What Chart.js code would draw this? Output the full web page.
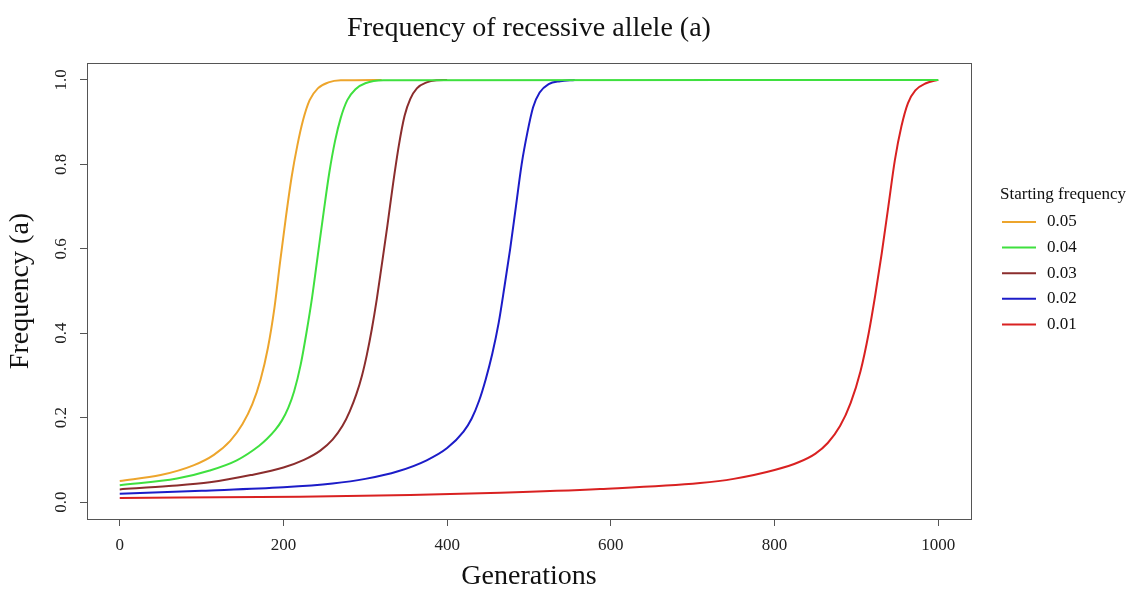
<!DOCTYPE html>
<html>
<head>
<meta charset="utf-8">
<title>Frequency of recessive allele (a)</title>
<script src="https://cdn.jsdelivr.net/npm/chart.js@4/dist/chart.umd.min.js"></script>
<style>
  html, body { margin: 0; padding: 0; background: #ffffff; }
  #wrap { width: 1128px; height: 592px; }
</style>
</head>
<body>
<div id="wrap"><canvas id="chart" width="1128" height="592"></canvas></div>
<script>
"use strict";

const SERIF = "'Liberation Serif', 'Times New Roman', serif";

// Legend entries (starting frequency) and their line colours
const startLabels = ["0.05", "0.04", "0.03", "0.02", "0.01"];
const lineColors = ["#EDA52C", "#3FE03F", "#8B2D2D", "#1C1CC8", "#D92121"];

// Axis ticks
const xTickValues = [0, 200, 400, 600, 800, 1000];
const yTickValues = [0, 0.2, 0.4, 0.6, 0.8, 1.0];

// Generation / frequency samples for each starting frequency
const gen05 = [0, 50, 90, 115, 135, 150, 162, 172, 181, 189, 196, 203, 210, 217, 224, 232, 242, 255, 270, 320];
const freq05 = [0.050, 0.064, 0.087, 0.112, 0.145, 0.185, 0.232, 0.29, 0.365, 0.46, 0.57, 0.675, 0.77, 0.845, 0.905, 0.952, 0.98, 0.994, 0.999, 1.0];

const gen04 = [0, 70, 110, 143, 170, 180, 190, 198, 206, 213, 221, 228, 235, 242, 249, 256, 263, 270, 278, 288, 300, 322, 1000];
const freq04 = [0.040, 0.056, 0.075, 0.099, 0.133, 0.15, 0.171, 0.193, 0.224, 0.262, 0.325, 0.40, 0.485, 0.585, 0.685, 0.78, 0.855, 0.91, 0.952, 0.978, 0.992, 0.999, 1.0];

const gen03 = [0, 60, 110, 160, 200, 225, 245, 260, 272, 281, 289, 296, 302, 308, 314, 320, 327, 334, 341, 348, 355, 363, 375, 387, 400];
const freq03 = [0.030, 0.038, 0.047, 0.064, 0.082, 0.100, 0.122, 0.148, 0.18, 0.215, 0.255, 0.30, 0.35, 0.41, 0.48, 0.56, 0.655, 0.755, 0.845, 0.915, 0.955, 0.98, 0.994, 0.999, 1.0];

const gen02 = [0, 100, 200, 260, 300, 340, 375, 400, 420, 430, 439, 447, 455, 463, 470, 477, 484, 491, 498, 505, 513, 524, 538, 556];
const freq02 = [0.020, 0.027, 0.035, 0.044, 0.055, 0.073, 0.099, 0.128, 0.167, 0.198, 0.24, 0.29, 0.35, 0.425, 0.51, 0.60, 0.70, 0.80, 0.875, 0.935, 0.97, 0.99, 0.997, 1.0];

const gen01 = [0, 220, 355, 465, 587, 709, 750, 800, 830, 850, 865, 880, 893, 905, 915, 923, 931, 939, 947, 955, 963, 972, 985, 1000];
const freq01 = [0.010, 0.0126, 0.0166, 0.022, 0.031, 0.045, 0.055, 0.076, 0.095, 0.115, 0.14, 0.18, 0.235, 0.31, 0.40, 0.49, 0.59, 0.70, 0.81, 0.89, 0.945, 0.975, 0.992, 1.0];

const gens = [gen05, gen04, gen03, gen02, gen01];
const freqs = [freq05, freq04, freq03, freq02, freq01];

const toPoints = (xs, ys) => xs.map((x, i) => ({ x, y: ys[i] }));

const datasets = startLabels.map((label, i) => ({
  label,
  data: toPoints(gens[i], freqs[i]),
  borderColor: lineColors[i],
  borderWidth: 2,
  pointRadius: 0,
  fill: false,
  cubicInterpolationMode: "monotone",
  // the 0.04 run reaches 1.0 and stays there, drawn over the others
  order: label === "0.04" ? 0 : 1,
}));

// Box around the plot region plus the right-hand legend
const boxAndLegend = {
  id: "boxAndLegend",
  afterDraw(chart) {
    const { ctx, chartArea: a } = chart;
    ctx.save();
    ctx.strokeStyle = "#555";
    ctx.lineWidth = 1;
    ctx.strokeRect(Math.round(a.left) + 0.5, Math.round(a.top) + 0.5,
      Math.round(a.right - a.left), Math.round(a.bottom - a.top));

    const lx = a.right + 29;
    ctx.fillStyle = "#111";
    ctx.textBaseline = "middle";
    ctx.textAlign = "left";
    ctx.font = "17px " + SERIF;
    ctx.fillText("Starting frequency", lx, 195);
    startLabels.forEach((lab, i) => {
      const y = 222 + i * 25.6;
      ctx.strokeStyle = lineColors[i];
      ctx.lineWidth = 2;
      ctx.beginPath();
      ctx.moveTo(lx + 2, y);
      ctx.lineTo(lx + 36, y);
      ctx.stroke();
      ctx.fillStyle = "#111";
      ctx.fillText(lab, lx + 47, y);
    });
    ctx.restore();
  },
};

new Chart(document.getElementById("chart"), {
  type: "line",
  data: { datasets },
  plugins: [boxAndLegend],
  options: {
    responsive: false,
    animation: false,
    devicePixelRatio: 1,
    layout: { padding: { left: 0, right: 157, top: 0, bottom: 0 } },
    plugins: {
      legend: { display: false },
      tooltip: { enabled: false },
      title: {
        display: true,
        fullSize: false,
        text: "Frequency of recessive allele (a)",
        color: "#111",
        font: { family: SERIF, size: 28, weight: "normal", lineHeight: 1.2 },
        padding: { top: 11.8, bottom: 17.6 },
      },
    },
    scales: {
      x: {
        type: "linear",
        min: -40,
        max: 1040,
        afterFit: (s) => { s.height = 73; },
        afterBuildTicks: (s) => { s.ticks = xTickValues.map((v) => ({ value: v })); },
        grid: { display: true, drawOnChartArea: false, drawTicks: true, tickLength: 7, color: "#555" },
        border: { display: false },
        ticks: {
          autoSkip: false,
          maxRotation: 0,
          padding: 9,
          color: "#222",
          font: { family: SERIF, size: 17 },
          callback: (v) => String(v),
        },
        title: {
          display: true,
          text: "Generations",
          color: "#111",
          font: { family: SERIF, size: 28, lineHeight: 1 },
          padding: { top: 0, bottom: 1 },
        },
      },
      y: {
        type: "linear",
        min: -0.04,
        max: 1.04,
        afterFit: (s) => { s.width = 87; },
        afterBuildTicks: (s) => { s.ticks = yTickValues.map((v) => ({ value: v })); },
        grid: { display: true, drawOnChartArea: false, drawTicks: true, tickLength: 7, color: "#555" },
        border: { display: false },
        ticks: {
          autoSkip: false,
          minRotation: 90,
          maxRotation: 90,
          crossAlign: "center",
          padding: 8,
          color: "#222",
          font: { family: SERIF, size: 17 },
          callback: (v) => Number(v).toFixed(1),
        },
        title: {
          display: true,
          text: "Frequency (a)",
          color: "#111",
          font: { family: SERIF, size: 28, lineHeight: 1 },
          padding: { top: 7, bottom: 0 },
        },
      },
    },
  },
});
</script>
</body>
</html>
